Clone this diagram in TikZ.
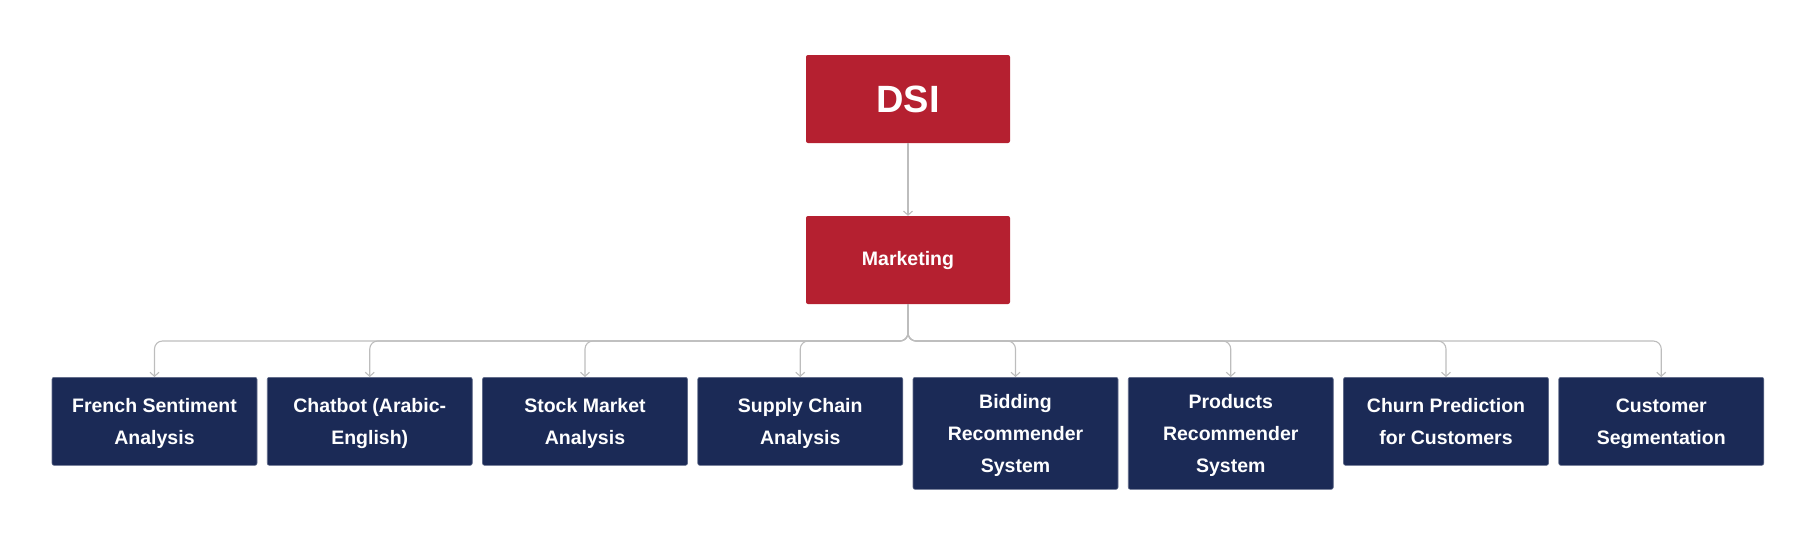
\documentclass[tikz,border=0pt]{standalone}
\usepackage{fontspec}
\setmainfont{Liberation Sans}
\usetikzlibrary{arrows.meta}
\definecolor{dsired}{HTML}{B52030}
\definecolor{dsinavy}{HTML}{1B2A56}
\definecolor{linkgray}{HTML}{BDBDBD}
\begin{document}
\begin{tikzpicture}[x=1pt,y=-1pt,
top node/.style={fill=dsired,text=white,font=\bfseries\fontsize{19.5}{32}\selectfont,
  minimum width=204pt,minimum height=88pt,rounded corners=2pt,inner sep=0pt},
project node/.style={fill=dsinavy,draw=dsinavy!70!white,line width=0.6pt,text=white,
  font=\bfseries\fontsize{19.5}{32}\selectfont,align=center,anchor=north,text depth=0pt,
  minimum width=205pt,minimum height=88pt,rounded corners=2pt,inner sep=0pt},
link/.style={draw=linkgray,line width=1.1pt,rounded corners=8pt,
  -{Straight Barb[length=4pt,width=9pt]}}]
\useasboundingbox (0,0) rectangle (1816,544);
\node[top node,font=\bfseries\fontsize{38}{40}\selectfont] (dsi) at (908,99) {DSI};
\node[top node] (mkt) at (908,260) {Marketing};
\coordinate (bus) at (908,341);
\node[project node] (p1) at (154.5,377) {French Sentiment\\Analysis};
\node[project node] (p2) at (369.75,377) {Chatbot (Arabic-\\English)};
\node[project node] (p3) at (585,377) {Stock Market\\Analysis};
\node[project node] (p4) at (800.25,377) {Supply Chain\\Analysis};
\node[project node,minimum height=112pt] (p5) at (1015.5,377) {Bidding\\Recommender\\System};
\node[project node,minimum height=112pt] (p6) at (1230.75,377) {Products\\Recommender\\System};
\node[project node] (p7) at (1446,377) {Churn Prediction\\for Customers};
\node[project node] (p8) at (1661.25,377) {Customer\\Segmentation};
% links
\draw[link] (dsi) -- (mkt);
\draw[link] (mkt.south) -- (bus) -| (p1.north);
\draw[link] (mkt.south) -- (bus) -| (p2.north);
\draw[link] (mkt.south) -- (bus) -| (p3.north);
\draw[link] (mkt.south) -- (bus) -| (p4.north);
\draw[link] (mkt.south) -- (bus) -| (p5.north);
\draw[link] (mkt.south) -- (bus) -| (p6.north);
\draw[link] (mkt.south) -- (bus) -| (p7.north);
\draw[link] (mkt.south) -- (bus) -| (p8.north);
\end{tikzpicture}
\end{document}
